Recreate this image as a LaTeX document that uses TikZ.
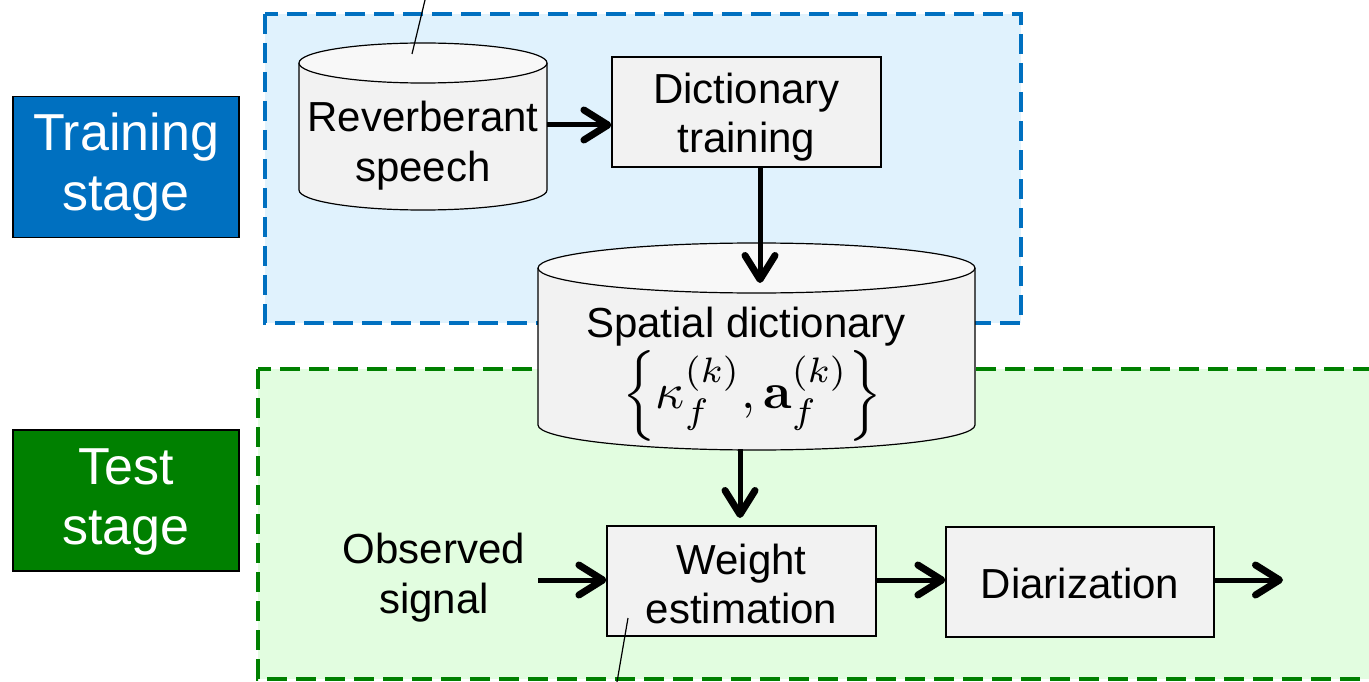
\documentclass[tikz,border=0pt]{standalone}
\usepackage{amsmath}
\usepackage[no-math]{fontspec}
\setmainfont{Liberation Sans}
\usetikzlibrary{arrows.meta}
\definecolor{trainblue}{HTML}{0070C0}
\definecolor{testgreen}{HTML}{008000}
\definecolor{lightblue}{HTML}{E0F2FD}
\definecolor{lightgreen}{HTML}{E2FDE0}
\definecolor{boxgray}{HTML}{F2F2F2}
\definecolor{topgray}{HTML}{F8F8F8}
\tikzset{
  region/.style={line width=4pt, dash pattern=on 20pt off 9pt},
  stagebox/.style={draw=black, line width=1.2pt, text=white, align=center,
    minimum width=226pt, minimum height=141pt, inner sep=0pt, text depth=0pt,
    font=\fontsize{52}{60}\selectfont},
  procbox/.style={draw=black, line width=1.2pt, fill=boxgray, align=center,
    minimum width=269pt, minimum height=110pt, inner sep=0pt, text depth=0pt,
    font=\fontsize{42}{49}\selectfont},
  lbl/.style={align=center, inner sep=0pt, font=\fontsize{42}{50}\selectfont},
  drum/.style={draw=black, line width=1.2pt},
  conn/.style={line width=5pt, -{Straight Barb[length=24pt,width=30pt,line width=7pt,round]}},
  thinline/.style={draw=black, line width=1.2pt},
}
\begin{document}
\begin{tikzpicture}[x=1pt,y=-1pt]
\fill[white] (0,0) rectangle (1369,682);
\useasboundingbox (0,0) rectangle (1369,682);

% regions
\draw[region, draw=trainblue, fill=lightblue] (265,14) rectangle (1021,323);
\draw[region, draw=testgreen, fill=lightgreen] (258,369) rectangle (1390,679);

% stage labels
\node[stagebox, fill=trainblue, text height=88pt] (train) at (126,167) {Training\\stage};
\node[stagebox, fill=testgreen, text height=88pt] (test) at (126,500.5) {Test\\stage};

% reverberant speech cylinder
\fill[boxgray] (299,63) -- (299,190) arc[start angle=180,end angle=0,x radius=124,y radius=20] -- (547,63) -- cycle;
\draw[drum] (299,63) -- (299,190) arc[start angle=180,end angle=0,x radius=124,y radius=20] -- (547,63);
\draw[drum, fill=topgray] (423,63) ellipse[x radius=124, y radius=20];
\node[lbl] (rev) at (423,146) {Reverberant\\speech};
\coordinate (revR) at (547,125);
\coordinate (revTop) at (412,54);
\coordinate (revCall) at (425,0);

% dictionary training
\node[procbox, text height=82pt] (dict) at (746.5,112) {Dictionary\\training};

% spatial dictionary cylinder
\fill[boxgray] (538,268) -- (538,425) arc[start angle=180,end angle=0,x radius=218.5,y radius=25] -- (975,268) -- cycle;
\draw[drum] (538,268) -- (538,425) arc[start angle=180,end angle=0,x radius=218.5,y radius=25] -- (975,268);
\draw[drum, fill=topgray] (756.5,268) ellipse[x radius=218.5, y radius=25];
\node[lbl] (sdtext) at (746,327) {Spatial dictionary};
\node[lbl, font=\fontsize{10}{12}\selectfont] (sdmath) at (752,396)
  {\scalebox{5.05}{$\Bigl\{\kappa_f^{(k)},\mathbf{a}_f^{(k)}\Bigr\}$}};
\coordinate (sdIn) at (760,283);
\coordinate (sdOut) at (740,449);

% test stage
\node[procbox, text height=84pt] (weight) at (741.5,581) {Weight\\estimation};
\node[procbox, minimum width=268pt, text height=33pt] (diar) at (1080,582) {Diarization};
\node[lbl] (obs) at (434,578) {Observed\\signal};
\coordinate (obsStart) at (538,580);
\coordinate (outEnd) at (1283,580);
\coordinate (weightIn) at (740,518);
\coordinate (weightCallA) at (628,618);
\coordinate (weightCallB) at (617,682);

% connectors
\draw[conn] (revR) -- (dict.west |- revR);
\draw[conn] (dict.south -| sdIn) -- (sdIn);
\draw[conn] (sdOut) -- (weightIn);
\draw[conn] (obsStart) -- (weight.west |- obsStart);
\draw[conn] (weight.east |- obsStart) -- (diar.west |- obsStart);
\draw[conn] (diar.east |- obsStart) -- (outEnd);

% callout lines
\draw[thinline] (revTop) -- (revCall);
\draw[thinline] (weightCallA) -- (weightCallB);
\end{tikzpicture}
\end{document}
